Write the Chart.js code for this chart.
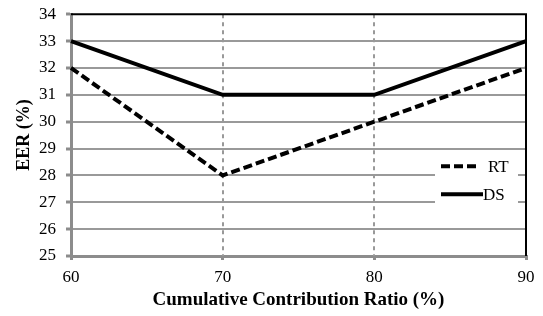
<!DOCTYPE html>
<html><head><meta charset="utf-8">
<script src="https://cdn.jsdelivr.net/npm/chart.js@4"></script>
<style>html,body{margin:0;padding:0;background:#fff}#wrap{width:543px;height:316px}</style>
</head><body><div id="wrap"><canvas id="c" width="543" height="316"></canvas></div>
<script>
const xValues = [60, 70, 80, 90];
const rtValues = [32, 28, 30, 32];
const dsValues = [33, 31, 31, 33];
const xTicks = [60, 70, 80, 90];
const yMin = 25, yMax = 34;
const seriesNames = ['RT', 'DS'];

const GRAY = '#8c8c8c';
const FONT = '"Liberation Serif", "Times New Roman", serif';

const framePlugin = {
  id: 'frame',
  beforeDatasetsDraw(chart) {
    const {ctx, chartArea: a, scales: {x, y}} = chart;
    ctx.save();
    ctx.strokeStyle = '#999';
    ctx.lineWidth = 2;
    ctx.setLineDash([4, 4]);
    [70, 80].forEach(v => {
      const px = Math.round(x.getPixelForValue(v));
      ctx.beginPath(); ctx.moveTo(px, a.top); ctx.lineTo(px, a.bottom); ctx.stroke();
    });
    ctx.setLineDash([]);
    ctx.strokeStyle = '#000';
    ctx.lineWidth = 2;
    const rx = x.getPixelForValue(90);
    const ty = y.getPixelForValue(34);
    ctx.beginPath(); ctx.moveTo(a.left, ty); ctx.lineTo(rx, ty); ctx.lineTo(rx, a.bottom); ctx.stroke();
    ctx.restore();
  },
  afterDatasetsDraw(chart) {
    const {ctx, chartArea: a} = chart;
    ctx.save();
    const bx = a.right - 91, by = a.top + 144, bw = 83, bh = 52;
    ctx.fillStyle = '#fff';
    ctx.fillRect(bx, by, bw, bh);
    chart.data.datasets.forEach((ds, i) => {
      const ly = by + 8 + i * 28;
      ctx.strokeStyle = ds.borderColor;
      ctx.lineWidth = ds.borderWidth;
      ctx.setLineDash(ds.borderDash || []);
      ctx.beginPath(); ctx.moveTo(bx + 6, ly); ctx.lineTo(bx + (i ? 48 : 43), ly); ctx.stroke();
      ctx.setLineDash([]);
      ctx.fillStyle = '#000';
      ctx.font = '17px ' + FONT;
      ctx.textBaseline = 'middle';
      ctx.fillText(ds.label, bx + (i ? 48 : 53), ly + 1);
    });
    ctx.restore();
  }
};

new Chart(document.getElementById('c'), {
  type: 'line',
  data: {
    datasets: [
      { label: seriesNames[0], data: xValues.map((v, i) => ({x: v, y: rtValues[i]})),
        borderColor: '#000', borderWidth: 4, borderDash: [9, 4], pointRadius: 0, fill: false, tension: 0 },
      { label: seriesNames[1], data: xValues.map((v, i) => ({x: v, y: dsValues[i]})),
        borderColor: '#000', borderWidth: 4, pointRadius: 0, fill: false, tension: 0 }
    ]
  },
  options: {
    responsive: false,
    animation: false,
    clip: false,
    layout: { padding: { left: 14, right: 17, top: 7, bottom: 5 } },
    plugins: { legend: { display: false }, tooltip: { enabled: false } },
    scales: {
      x: {
        type: 'linear', min: 60, max: 90,
        afterBuildTicks: s => { s.ticks = xTicks.map(v => ({value: v})); },
        afterFit: s => { s.height = 55; },
        grid: { drawOnChartArea: false, drawTicks: true, tickLength: 4, color: GRAY, lineWidth: 3 },
        border: { display: true, color: GRAY, width: 3 },
        ticks: { color: '#000', font: { family: FONT, size: 17 }, padding: 7, maxRotation: 0 },
        title: { display: true, text: 'Cumulative Contribution Ratio (%)', color: '#000',
                 font: { family: FONT, size: 19, weight: 'bold' }, padding: { top: 0, bottom: 0 } }
      },
      y: {
        min: yMin, max: yMax,
        afterFit: s => { s.width = 57; },
        ticks: { stepSize: 1, color: '#000', font: { family: FONT, size: 17, lineHeight: 0.5 }, padding: 10 },
        grid: { color: ctx => ctx.tick && ctx.tick.value === yMax ? 'rgba(0,0,0,0)' : '#999',
                lineWidth: 2, drawTicks: true, tickLength: 5, tickColor: GRAY, tickWidth: 3 },
        border: { display: true, color: GRAY, width: 3 },
        title: { display: true, text: 'EER (%)', color: '#000',
                 font: { family: FONT, size: 18, weight: 'bold' }, padding: { top: 0, bottom: 0 } }
      }
    }
  },
  plugins: [framePlugin]
});
</script></body></html>
